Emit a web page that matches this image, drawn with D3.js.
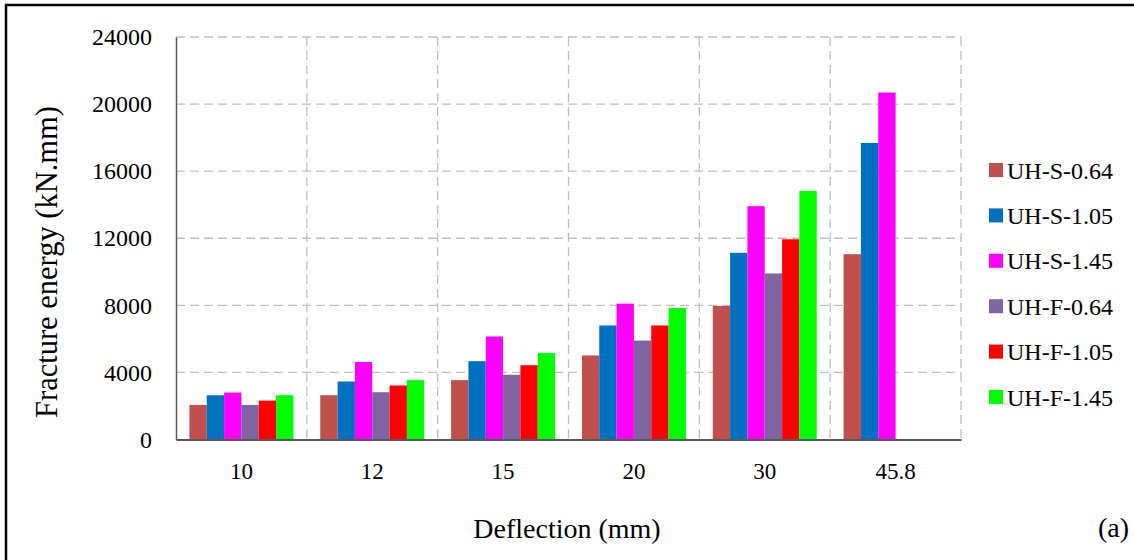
<!DOCTYPE html>
<html>
<head>
<meta charset="utf-8">
<script src="https://cdn.jsdelivr.net/npm/d3@7"></script>
<style>
  html, body { margin: 0; padding: 0; background: #fff; }
  svg { display: block; }
  svg text { font-family: "Liberation Serif", "Times New Roman", serif !important; fill: #000; }
</style>
</head>
<body>
<svg id="chart" width="1134" height="560"></svg>
<script>
// ---- data ----
const categories = ["10", "12", "15", "20", "30", "45.8"];
const seriesNames = ["UH-S-0.64", "UH-S-1.05", "UH-S-1.45", "UH-F-0.64", "UH-F-1.05", "UH-F-1.45"];
const seriesColors = ["#C0504D", "#0070C0", "#FF00FF", "#8064A2", "#FF0000", "#00FF00"];
const uhS064 = [2060, 2640, 3540, 5010, 7960, 11050];
const uhS105 = [2640, 3460, 4670, 6800, 11130, 17680];
const uhS145 = [2800, 4620, 6140, 8100, 13910, 20690];
const uhF064 = [2060, 2820, 3860, 5900, 9900, null];
const uhF105 = [2320, 3220, 4430, 6800, 11940, null];
const uhF145 = [2640, 3540, 5160, 7840, 14820, null];
const yTicks = [0, 4000, 8000, 12000, 16000, 20000, 24000];
const xTitle = "Deflection (mm)";
const yTitle = "Fracture energy (kN.mm)";
const panelLabel = "(a)";

const seriesValues = [uhS064, uhS105, uhS145, uhF064, uhF105, uhF145];
const FONT = '"Liberation Serif", "Times New Roman", serif';

// ---- layout ----
const svg = d3.select("#chart");
const plot = { left: 176, right: 961, top: 37, bottom: 439.5 };

// outer frame
svg.append("rect")
  .attr("x", 6).attr("y", 5)
  .attr("width", 1140).attr("height", 600)
  .attr("fill", "none").attr("stroke", "#000").attr("stroke-width", 2.5);

const x0 = d3.scaleBand().domain(categories).range([plot.left, plot.right]).paddingInner(0).paddingOuter(0);
const x1 = d3.scaleBand().domain(seriesNames).range([0, x0.bandwidth()]).paddingInner(0).paddingOuter(0.775);
const y = d3.scaleLinear().domain([0, 24000]).range([plot.bottom, plot.top]);

const grid = svg.append("g");
grid.selectAll("line.h").data(yTicks.filter(d => d > 0)).enter().append("line")
  .attr("x1", plot.left).attr("x2", plot.right)
  .attr("y1", d => y(d)).attr("y2", d => y(d))
  .attr("stroke", "#BFBFBF").attr("stroke-width", 1.3).attr("stroke-dasharray", "9,5");
grid.selectAll("line.v").data(categories).enter().append("line")
  .attr("x1", d => x0(d) + x0.bandwidth()).attr("x2", d => x0(d) + x0.bandwidth())
  .attr("y1", plot.top).attr("y2", plot.bottom)
  .attr("stroke", "#BFBFBF").attr("stroke-width", 1.3).attr("stroke-dasharray", "9,5");

// bars
const rows = [];
categories.forEach((c, i) => {
  seriesNames.forEach((s, j) => {
    const v = seriesValues[j][i];
    if (v != null) rows.push({ c, s, v, color: seriesColors[j] });
  });
});
svg.append("g").selectAll("rect").data(rows).enter().append("rect")
  .attr("x", d => x0(d.c) + x1(d.s))
  .attr("width", x1.bandwidth())
  .attr("y", d => y(d.v))
  .attr("height", d => y(0) - y(d.v))
  .attr("fill", d => d.color);

// axes
const yAxis = svg.append("g").attr("transform", `translate(${plot.left},0)`)
  .call(d3.axisLeft(y).tickValues(yTicks).tickFormat(d3.format("d")).tickSize(0).tickPadding(24));
yAxis.attr("font-family", null);
yAxis.select(".domain").attr("stroke", "#595959").attr("stroke-width", 1.5);
yAxis.selectAll("text").style("font-family", FONT).style("font-size", "24px").attr("fill", "#000");

const xAxis = svg.append("g").attr("transform", `translate(0,${plot.bottom})`)
  .call(d3.axisBottom(x0).tickSize(0).tickPadding(23));
xAxis.attr("font-family", null);
xAxis.select(".domain").attr("stroke", "#595959").attr("stroke-width", 1.8);
xAxis.selectAll("text").style("font-family", FONT).style("font-size", "23px").attr("fill", "#000");

// titles
svg.append("text").attr("x", 567).attr("y", 538).attr("text-anchor", "middle")
  .style("font-family", FONT).style("font-size", "28px").text(xTitle);
svg.append("text").attr("transform", "translate(57,262) rotate(-90)").attr("text-anchor", "middle")
  .style("font-family", FONT).style("font-size", "30.5px").text(yTitle);
svg.append("text").attr("x", 1129).attr("y", 537).attr("text-anchor", "end")
  .style("font-family", FONT).style("font-size", "28px").text(panelLabel);

// legend
const legend = svg.append("g").attr("transform", "translate(989,170)");
const li = legend.selectAll("g").data(seriesNames).enter().append("g")
  .attr("transform", (d, i) => `translate(0,${i * 45.4})`);
li.append("rect").attr("x", 0).attr("y", -7).attr("width", 14).attr("height", 14)
  .attr("fill", (d, i) => seriesColors[i]);
li.append("text").attr("x", 18).attr("y", 8.5)
  .style("font-family", FONT).style("font-size", "24px").text(d => d);
</script>
</body>
</html>
